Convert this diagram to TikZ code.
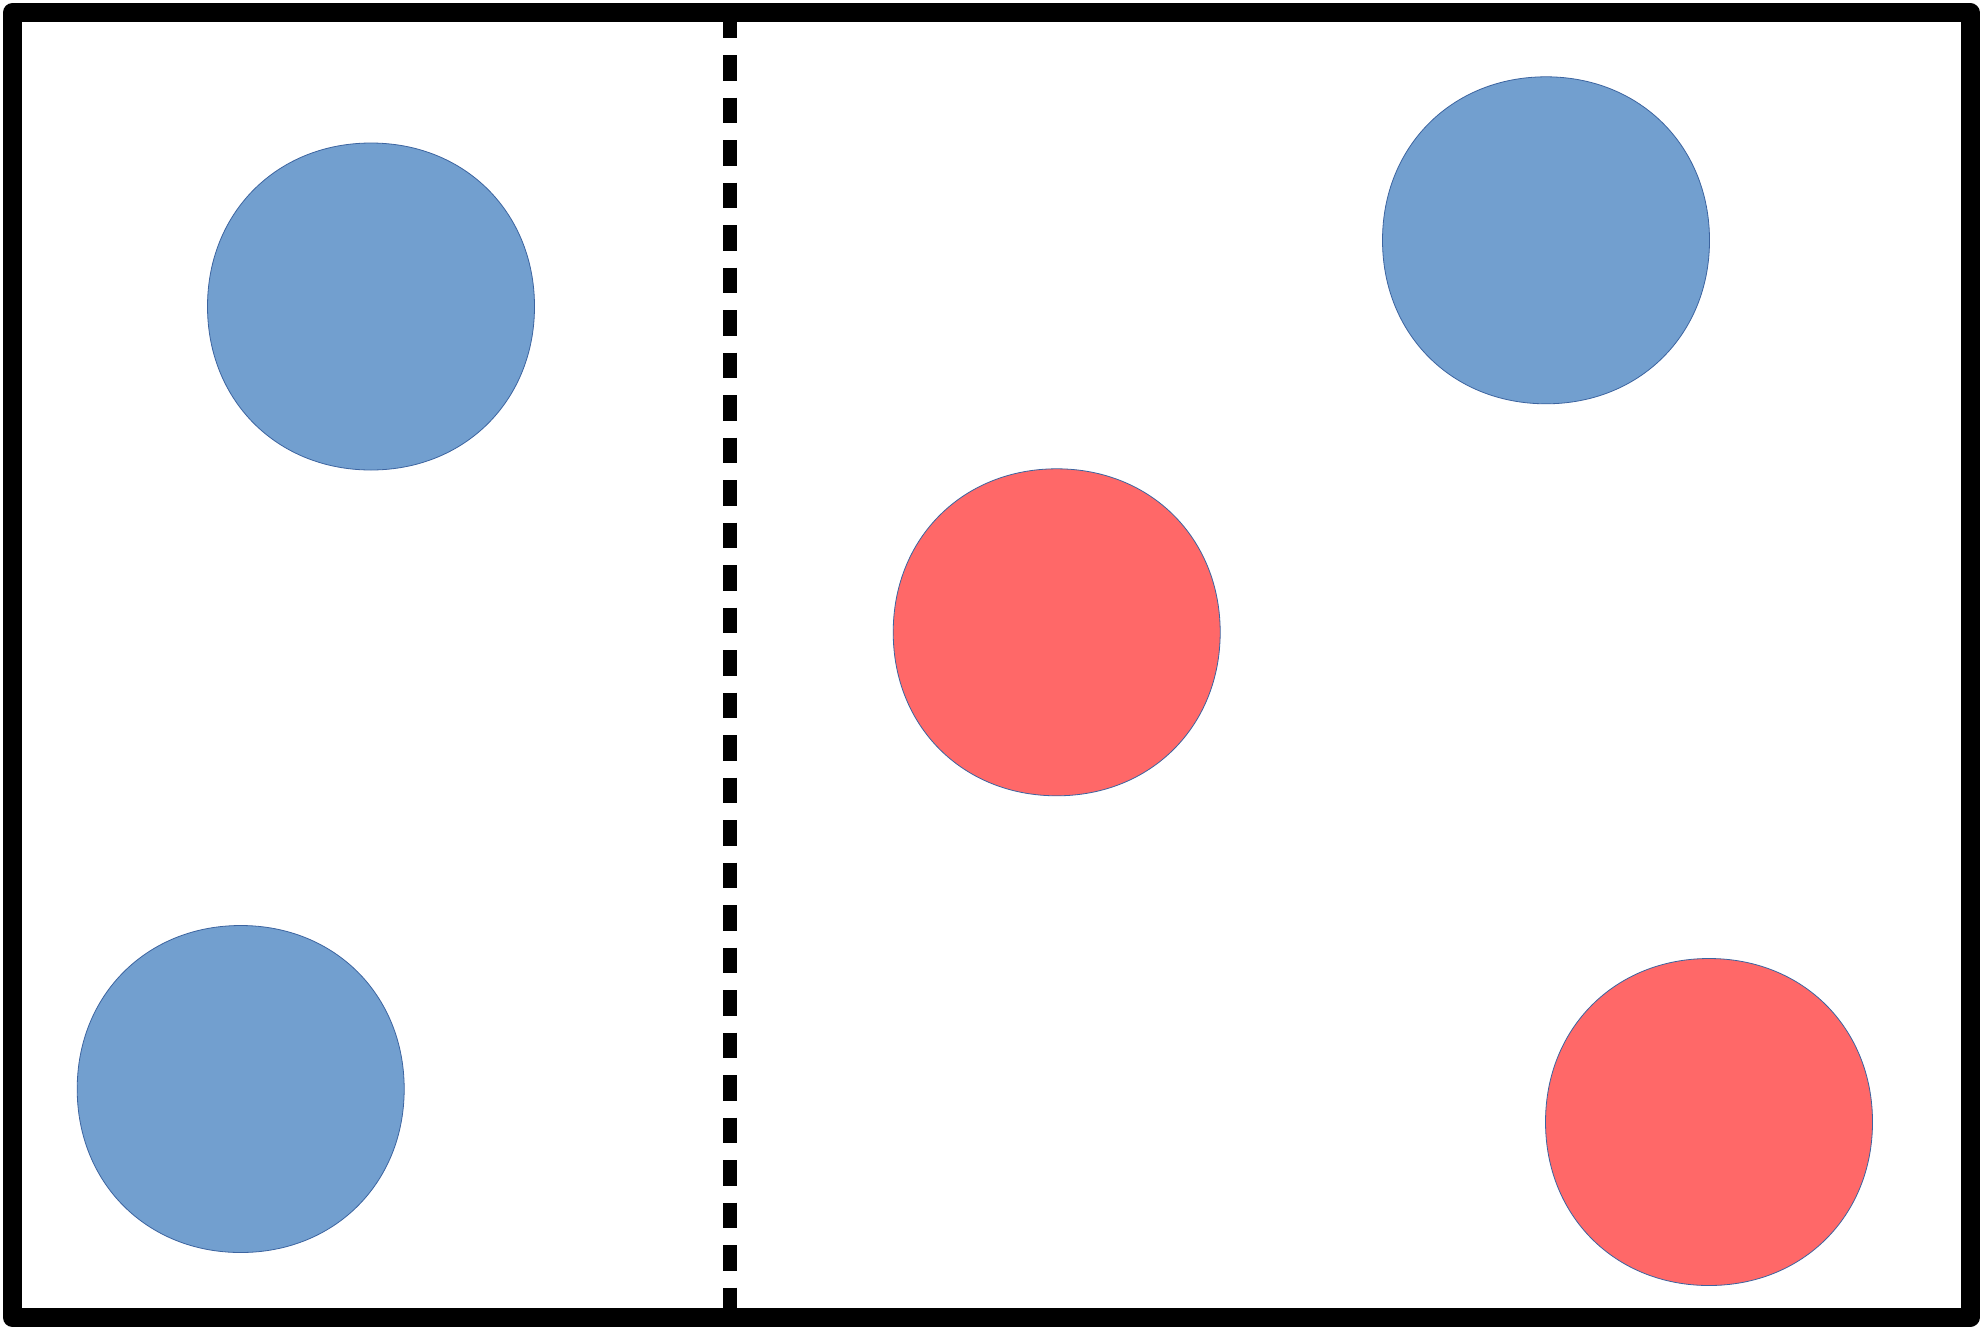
\documentclass[tikz,border=0pt]{standalone}
\usepackage{tikz}
\definecolor{bluefill}{RGB}{114,159,207}
\definecolor{redfill}{RGB}{255,104,104}
\definecolor{edgeblue}{RGB}{60,100,160}
\tikzset{
  dot/.style={circle, minimum size=327pt, inner sep=0pt},
  blobline/.style={draw=edgeblue, line width=0.8pt},
  frameline/.style={line width=19pt, line join=round, draw=black},
  divider/.style={line width=13.5pt, draw=black, dash pattern=on 25.5pt off 17pt}
}
\newcommand{\myblob}[2]{%
  \path[blobline, fill=#2, shift={(#1)}]
    (163.5,0) .. controls (163.5,94) and (94,163.5) .. (0,163.5)
    .. controls (-94,163.5) and (-163.5,94) .. (-163.5,0)
    .. controls (-163.5,-94) and (-94,-163.5) .. (0,-163.5)
    .. controls (94,-163.5) and (163.5,-94) .. cycle;}
\begin{document}
\begin{tikzpicture}[x=1pt,y=-1pt]
\useasboundingbox (0,0) rectangle (1980,1328);
\fill[white] (0,0) rectangle (1980,1328);
\coordinate (dtop) at (730,12.5);
\coordinate (dbot) at (730,1317.5);
\draw[divider] (dtop) -- (dbot);
\node[dot] (b1) at (371,306.5) {};
\node[dot] (b2) at (240.7,1089) {};
\node[dot] (b3) at (1546,240.3) {};
\node[dot] (r1) at (1056.7,632.3) {};
\node[dot] (r2) at (1709,1122) {};
\myblob{b1}{bluefill}
\myblob{b2}{bluefill}
\myblob{b3}{bluefill}
\myblob{r1}{redfill}
\myblob{r2}{redfill}
\draw[frameline] (12.5,12.5) rectangle (1970,1317.5);
\end{tikzpicture}
\end{document}
